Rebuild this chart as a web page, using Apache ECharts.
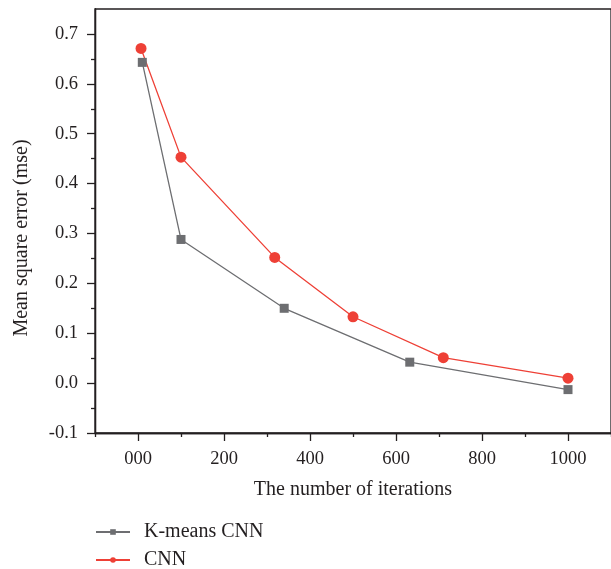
<!DOCTYPE html>
<html>
<head>
<meta charset="utf-8">
<script src="https://cdn.jsdelivr.net/npm/echarts@6/dist/echarts.min.js"></script>
<style>html,body{margin:0;padding:0;background:#fff;}#c{width:611px;height:569px;}</style>
</head>
<body>
<div id="c"></div>
<script>
const kmeansX = [10, 100, 340, 632, 1000];
const kmeansY = [0.643, 0.288, 0.150, 0.042, -0.013];
const cnnX = [7, 100, 318, 500, 710, 1000];
const cnnY = [0.671, 0.453, 0.252, 0.133, 0.051, 0.010];
const xMajor = [0, 200, 400, 600, 800, 1000];
const xMinor = [-100, 100, 300, 500, 700, 900, 1100];
const yMajor = [-0.1, 0, 0.1, 0.2, 0.3, 0.4, 0.5, 0.6, 0.7];
const yMinor = [-0.05, 0.05, 0.15, 0.25, 0.35, 0.45, 0.55, 0.65];
const seriesNames = ['K-means CNN', 'CNN'];
const xTitle = 'The number of iterations';
const yTitle = 'Mean square error (mse)';

const FONT = '"Liberation Serif", "DejaVu Serif", serif';
const TXT = '#231f20';
const GRAY = '#6d6e71';
const RED = '#ee4036';

const chart = echarts.init(document.getElementById('c'), null, {renderer: 'canvas'});
const axisLine = {show: true, onZero: false, lineStyle: {color: '#231f20', width: 1.3}};
chart.setOption({
  animation: false,
  backgroundColor: '#fff',
  grid: {left: 95, top: 9, width: 527, height: 424, show: true, borderColor: '#231f20', borderWidth: 1.3, containLabel: false},
  xAxis: [{
    type: 'value', min: -100, max: 1100,
    axisLine: axisLine,
    splitLine: {show: false},
    axisTick: {show: true, inside: false, length: 8, customValues: xMajor, lineStyle: {color: '#231f20', width: 1.3}},
    axisLabel: {show: true, customValues: xMajor, margin: 17, fontFamily: FONT, fontSize: 18.5, color: TXT,
      formatter: v => v === 0 ? '000' : String(v)},
    name: xTitle, nameLocation: 'middle', nameGap: 47,
    nameTextStyle: {fontFamily: FONT, fontSize: 20, color: TXT}
  }, {
    type: 'value', min: -100, max: 1100, position: 'bottom',
    axisLine: axisLine,
    splitLine: {show: false},
    axisTick: {show: true, inside: false, length: 4, customValues: xMinor, lineStyle: {color: '#231f20', width: 1.3}},
    axisLabel: {show: false}
  }],
  yAxis: [{
    type: 'value', min: -0.1, max: 0.75,
    axisLine: axisLine,
    splitLine: {show: false},
    axisTick: {show: true, inside: false, length: 8, customValues: yMajor, lineStyle: {color: '#231f20', width: 1.3}},
    axisLabel: {show: true, customValues: yMajor, margin: 17, fontFamily: FONT, fontSize: 18.5, color: TXT,
      formatter: v => v.toFixed(1)}
  }, {
    type: 'value', min: -0.1, max: 0.75, position: 'left',
    axisLine: axisLine,
    splitLine: {show: false},
    axisTick: {show: true, inside: false, length: 4, customValues: yMinor, lineStyle: {color: '#231f20', width: 1.3}},
    axisLabel: {show: false}
  }],
  legend: {
    orient: 'vertical', left: 95, top: 522, height: 80, padding: 0, itemWidth: 34, itemHeight: 7, itemGap: 8,
    textStyle: {fontFamily: FONT, fontSize: 20, lineHeight: 20, color: TXT, padding: [0, 0, 0, 9]},
    data: seriesNames
  },
  graphic: [{
    type: 'text', x: 22, y: 238, rotation: Math.PI / 2,
    style: {text: yTitle, font: '20px ' + FONT, fill: TXT, align: 'center', verticalAlign: 'middle'}
  }],
  series: [{
    name: seriesNames[0], type: 'line', xAxisIndex: 0, yAxisIndex: 0,
    data: kmeansX.map((x, i) => [x, kmeansY[i]]),
    symbol: 'rect', symbolSize: 9,
    lineStyle: {color: GRAY, width: 1.3}, itemStyle: {color: GRAY}
  }, {
    name: seriesNames[1], type: 'line', xAxisIndex: 0, yAxisIndex: 0,
    data: cnnX.map((x, i) => [x, cnnY[i]]),
    symbol: 'circle', symbolSize: 11,
    lineStyle: {color: RED, width: 1.3}, itemStyle: {color: RED}
  }]
});
</script>
</body>
</html>
